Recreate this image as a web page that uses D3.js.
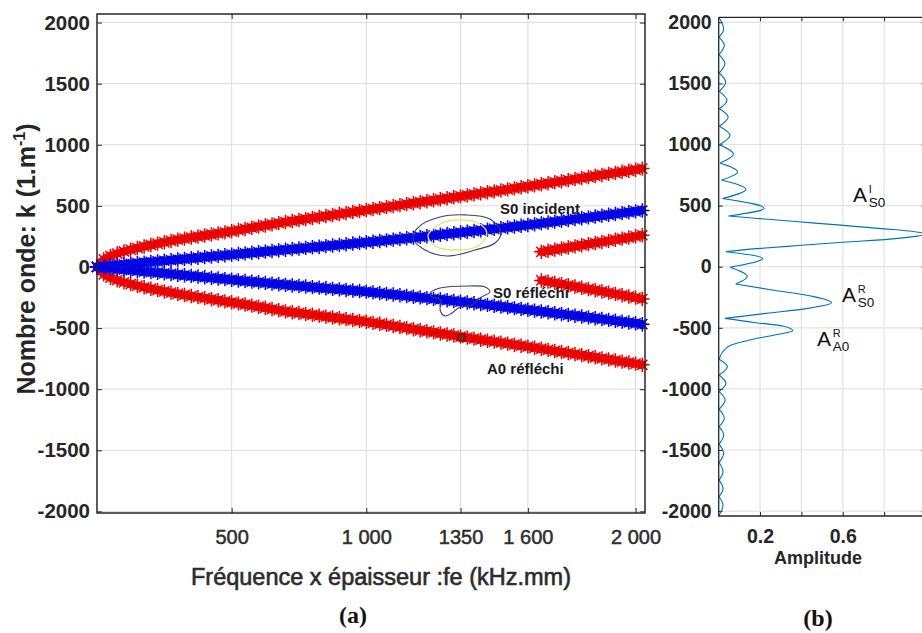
<!DOCTYPE html>
<html>
<head>
<meta charset="utf-8">
<script src="https://cdn.jsdelivr.net/npm/d3@7"></script>
<style>
  html, body { margin: 0; padding: 0; background: #fff; }
  svg { display: block; }
  text { font-family: "Liberation Sans", Arial, sans-serif; }
  .serif { font-family: "Liberation Serif", "Times New Roman", serif; }
</style>
</head>
<body>
<svg id="chart" width="922" height="633"></svg>
<script>
// ---- (a) dispersion branches: frequency-thickness (kHz.mm) vs wavenumber k (1/m)
const feValues = [0,25,50,75,100,125,150,175,200,225,250,275,300,325,350,375,400,425,450,475,
  500,525,550,575,600,625,650,675,700,725,750,775,800,825,850,875,900,925,950,975,
  1000,1025,1050,1075,1100,1125,1150,1175,1200,1225,1250,1275,1300,1325,1350,1375,1400,1425,1450,1475,
  1500,1525,1550,1575,1600,1625,1650,1675,1700,1725,1750,1775,1800,1825,1850,1875,1900,1925,1950,1975,
  2000,2025];

const kA0Incident = [0,62,90,110,127,142,155,168,180,191,202,213,224,232,241,249,258,266,275,283,
  292,302,311,321,330,340,349,359,368,376,384,392,401,409,417,425,433,441,450,458,
  466,474,482,490,498,506,514,522,530,538,546,554,562,570,578,586,594,602,611,619,
  627,635,643,652,660,668,677,685,694,702,711,719,728,736,745,753,762,770,779,787,
  796,805];

const kS0Incident = [0,6,11,16,21,26,31,36,41,46,51,56,61,66,71,76,81,86,91,96,
  101,106,111,116,121,126,131,136,141,146,151,156,161,166,171,176,181,186,192,197,
  202,207,213,218,224,229,235,240,246,252,258,264,270,276,282,288,294,300,306,312,
  318,324,331,337,344,350,357,364,371,378,385,392,399,406,413,420,427,434,441,448,
  455,462];

const kS0Reflected = [0,-5,-10,-16,-21,-26,-31,-37,-42,-47,-52,-57,-63,-68,-73,-78,-84,-89,-94,-99,
  -104,-110,-115,-120,-125,-130,-136,-141,-146,-151,-155,-160,-165,-169,-174,-179,-183,-188,-193,-197,
  -202,-208,-214,-220,-225,-231,-237,-243,-249,-255,-261,-266,-272,-278,-284,-291,-297,-304,-310,-317,
  -324,-330,-337,-343,-350,-357,-364,-371,-378,-385,-392,-399,-405,-412,-419,-426,-433,-440,-447,-454,
  -461,-468];

const kA0Reflected = [0,-60,-88,-108,-125,-140,-153,-166,-178,-189,-200,-210,-220,-229,-238,-247,-255,-264,-272,-281,
  -289,-298,-307,-316,-325,-334,-344,-353,-363,-370,-377,-384,-391,-398,-406,-413,-420,-427,-434,-441,
  -448,-457,-465,-474,-483,-491,-500,-509,-518,-526,-535,-544,-552,-561,-570,-578,-586,-595,-603,-611,
  -619,-627,-636,-644,-652,-661,-669,-678,-687,-696,-704,-713,-722,-730,-739,-748,-756,-765,-774,-782,
  -791,-800];

// short converted branches above 1650 kHz.mm
const feBranch = [1650,1675,1700,1725,1750,1775,1800,1825,1850,1875,1900,1925,1950,1975,2000,2025];
const kBranchUpper = [124,133,142,151,160,169,178,187,196,205,214,223,232,241,251,260];
const kBranchLower = [-110,-120,-130,-140,-150,-160,-170,-180,-190,-200,-210,-220,-231,-241,-251,-262];

// outlined regions around the S0 branches near 1350 kHz.mm, [fe, k]
const outlineIncident = [[1173,237],[1199,336],[1274,409],[1367,426],[1459,393],[1500,286],
  [1478,196],[1404,139],[1300,90],[1218,139]];
const outlineIncidentCore = [[1229,254],[1274,352],[1348,385],[1422,352],[1448,270],
  [1415,172],[1329,139],[1255,172]];
const outlineReflected = [[1237,-213],[1274,-172],[1385,-155],[1441,-164],[1459,-205],[1422,-254],
  [1392,-311],[1348,-327],[1318,-376],[1292,-401],[1274,-352],[1277,-270],[1244,-245]];
const pointMarked = [1354, -578];

const yTicks = [-2000,-1500,-1000,-500,0,500,1000,1500,2000];
const xTickValues = [500,1000,1350,1600,2000];
const xTickLabels = ["500","1 000","1350","1 600","2 000"];

// ---- (b) spatial spectrum amplitude vs k
const kWave = [2035,1946,1878,1810,1735,1660,1585,1510,1435,1361,1293,1225,1150,1075,998,920,848,776,709,633,
  558,478,415,395,370,340,310,288,268,250,228,200,175,150,123,69,-5,-82,-142,-191,
  -245,-295,-341,-382,-423,-458,-485,-524,-559,-600,-641,-700,-758,-818,-886,-954,-1022,-1091,-1166,-1241,
  -1309,-1377,-1452,-1527,-1602,-1678,-1746,-1814,-1882,-1950,-2035];
const amplitude = [0.003,0.024,0.002,0.027,0.002,0.030,0.002,0.034,0.003,0.040,0.003,0.046,0.003,0.055,0.004,0.071,0.006,0.091,0.013,0.132,
  0.018,0.220,0.047,0.19,0.37,0.59,0.80,0.94,1.00,0.96,0.84,0.60,0.40,0.20,0.035,0.213,0.055,0.138,0.082,0.26,
  0.46,0.546,0.43,0.23,0.030,0.18,0.31,0.358,0.27,0.15,0.06,0.018,0.002,0.042,0.002,0.035,0.002,0.031,0.002,0.027,
  0.002,0.024,0.002,0.024,0.002,0.021,0.002,0.021,0.002,0.021,0.002];
const ampTicks = [0.2,0.4,0.6,0.8];
const ampTickLabels = {0.2: "0.2", 0.6: "0.6"};

const svg = d3.select("#chart");
svg.append("rect").attr("width", 922).attr("height", 633).attr("fill", "#fff");

const axisColor = "#262626";
const gridColor = "#dcdcdc";

// ================= panel (a) =================
const x = d3.scaleLinear().domain([0, 2035]).range([97, 645]);
const y = d3.scaleLinear().domain([-2013, 2070]).range([513, 14]);

const gA = svg.append("g");
gA.append("g").selectAll("line").data(xTickValues).join("line")
  .attr("x1", d => x(d)).attr("x2", d => x(d)).attr("y1", 14).attr("y2", 513)
  .attr("stroke", gridColor).attr("stroke-width", 1);
gA.append("g").selectAll("line").data(yTicks).join("line")
  .attr("x1", 97).attr("x2", 645).attr("y1", d => y(d)).attr("y2", d => y(d))
  .attr("stroke", gridColor).attr("stroke-width", 1);

function styleAxis(g, size, weight, color, thicken) {
  g.select(".domain").remove();
  g.selectAll(".tick line").attr("stroke", axisColor).attr("stroke-width", 1);
  g.selectAll("text").attr("font-family", "'Liberation Sans', Arial, sans-serif")
    .attr("font-size", size).attr("font-weight", weight).attr("fill", color)
    .attr("stroke", thicken ? color : null).attr("stroke-width", thicken || null);
}

gA.append("g").attr("transform", "translate(97,0)")
  .call(d3.axisLeft(y).tickValues(yTicks).tickSize(-5).tickSizeOuter(0).tickPadding(7)
    .tickFormat(d => String(d)))
  .call(g => styleAxis(g, 20.5, "bold", "#262626"));
gA.append("g").attr("transform", "translate(645,0)")
  .call(d3.axisRight(y).tickValues(yTicks).tickSize(-5).tickSizeOuter(0).tickFormat(""))
  .call(g => styleAxis(g, 10, "normal", axisColor));
gA.append("g").attr("transform", "translate(0,513)")
  .call(d3.axisBottom(x).tickValues(xTickValues).tickSize(-5).tickSizeOuter(0).tickPadding(17)
    .tickFormat((d, i) => xTickLabels[i]))
  .call(g => styleAxis(g, 20, "normal", "#2e2e2e", 0.5));
gA.append("g").attr("transform", "translate(0,14)")
  .call(d3.axisTop(x).tickValues(xTickValues).tickSize(-5).tickSizeOuter(0).tickFormat(""))
  .call(g => styleAxis(g, 10, "normal", axisColor));

// asterisk marker
function asterisk(r) {
  const d = r * 0.7071;
  return `M${-r},0L${r},0M0,${-r}L0,${r}M${-d},${-d}L${d},${d}M${-d},${d}L${d},${-d}`;
}
const star = asterisk(7.2);
const bandLine = d3.line().x(d => d[0]).y(d => d[1]);

function drawBranch(fes, ks, color, core) {
  const p = fes.map((d, i) => [x(d), y(ks[i])]);
  const g = gA.append("g");
  // dense core of the overlapping markers
  g.append("path").attr("d", bandLine(p)).attr("fill", "none")
    .attr("stroke", core).attr("stroke-width", 8.5).attr("stroke-linecap", "round");
  g.selectAll("path.m").data(p).join("path").attr("class", "m")
    .attr("d", star)
    .attr("transform", d => `translate(${d[0]},${d[1]})`)
    .attr("fill", "none").attr("stroke", color).attr("stroke-width", 1.5);
}
drawBranch(feValues, kA0Incident, "#e60000", "#ff1010");
drawBranch(feValues, kA0Reflected, "#e60000", "#ff1010");
drawBranch(feBranch, kBranchUpper, "#e60000", "#ff1010");
drawBranch(feBranch, kBranchLower, "#e60000", "#ff1010");
drawBranch(feValues, kS0Incident, "#0000e0", "#1010ff");
drawBranch(feValues, kS0Reflected, "#0000e0", "#1010ff");

// outlines
const outline = d3.line().x(d => x(d[0])).y(d => y(d[1])).curve(d3.curveCatmullRomClosed);
gA.append("path").attr("d", outline(outlineIncident)).attr("fill", "none")
  .attr("stroke", "#3b4070").attr("stroke-width", 1.1);
gA.append("path").attr("d", outline(outlineIncidentCore)).attr("fill", "none")
  .attr("stroke", "#e6e36a").attr("stroke-width", 1.3);
gA.append("path").attr("d", outline(outlineReflected)).attr("fill", "none")
  .attr("stroke", "#3b4070").attr("stroke-width", 1.1);
gA.append("rect").attr("x", x(pointMarked[0]) - 3.5).attr("y", y(pointMarked[1]) - 3.5)
  .attr("width", 7).attr("height", 7).attr("fill", "#9a1d1d").attr("stroke", "#5a1010");

// border
gA.append("rect").attr("x", 97).attr("y", 14).attr("width", 548).attr("height", 499)
  .attr("fill", "none").attr("stroke", axisColor).attr("stroke-width", 1.5);

// branch labels
const branchLabels = [
  {t: "S0 incident", x: 500, y: 214},
  {t: "S0 réfléchi", x: 493, y: 298},
  {t: "A0 réfléchi", x: 487, y: 374}
];
gA.selectAll(".blabel").data(branchLabels).join("text")
  .attr("x", d => d.x).attr("y", d => d.y).text(d => d.t)
  .attr("font-size", 15).attr("font-weight", "bold").attr("fill", "#1a1a1a");

// axis titles
svg.append("text").attr("x", 381).attr("y", 585).attr("text-anchor", "middle")
  .attr("font-size", 23.5).attr("fill", "#2b2b2b").attr("stroke", "#2b2b2b").attr("stroke-width", 0.6)
  .text("Fréquence x épaisseur :fe (kHz.mm)");
const yt = svg.append("text").attr("transform", "translate(35,259) rotate(-90)")
  .attr("text-anchor", "middle").attr("font-size", 25).attr("font-weight", "bold").attr("fill", "#262626");
yt.append("tspan").text("Nombre onde: k (1.m");
yt.append("tspan").attr("font-size", 16).attr("dy", -10).text("-1");
yt.append("tspan").attr("dy", 10).text(")");

svg.append("text").attr("class", "serif").attr("x", 353).attr("y", 623).attr("text-anchor", "middle")
  .attr("font-size", 24).attr("font-weight", "bold").attr("fill", "#111").text("(a)");

// ================= panel (b) =================
const xR = d3.scaleLinear().domain([0, 1]).range([718.7, 925.5]);
const yR = d3.scaleLinear().domain([-2040, 2041]).range([516, 17.3]);
const gB = svg.append("g");

gB.append("g").selectAll("line").data(ampTicks).join("line")
  .attr("x1", d => xR(d)).attr("x2", d => xR(d)).attr("y1", 17.3).attr("y2", 516)
  .attr("stroke", "#e3e3e3").attr("stroke-width", 1.2);
gB.append("g").selectAll("line").data(yTicks).join("line")
  .attr("x1", 718.7).attr("x2", 925.5).attr("y1", d => yR(d)).attr("y2", d => yR(d))
  .attr("stroke", "#e3e3e3").attr("stroke-width", 1.2);

gB.append("g").attr("transform", "translate(718.7,0)")
  .call(d3.axisLeft(yR).tickValues(yTicks).tickSize(-4).tickSizeOuter(0).tickPadding(7)
    .tickFormat(d => String(d)))
  .call(g => styleAxis(g, 19.5, "bold", "#262626"));
gB.append("g").attr("transform", "translate(925.5,0)")
  .call(d3.axisRight(yR).tickValues(yTicks).tickSize(-4).tickSizeOuter(0).tickFormat(""))
  .call(g => styleAxis(g, 10, "normal", axisColor));
gB.append("g").attr("transform", "translate(0,516)")
  .call(d3.axisBottom(xR).tickValues(ampTicks).tickSize(-4).tickSizeOuter(0).tickPadding(13)
    .tickFormat(d => ampTickLabels[d] || ""))
  .call(g => styleAxis(g, 19.5, "bold", "#262626"));
gB.append("g").attr("transform", "translate(0,17.3)")
  .call(d3.axisTop(xR).tickValues(ampTicks).tickSize(-4).tickSizeOuter(0).tickFormat(""))
  .call(g => styleAxis(g, 10, "normal", axisColor));

// spectrum line: each lobe between two minima is a smooth piece
const pts = kWave.map((k, i) => ({k, a: amplitude[i]}));
const lobes = [];
let cur = [pts[0]];
for (let i = 1; i < pts.length; i++) {
  cur.push(pts[i]);
  const isMin = i < pts.length - 1 && pts[i].a < pts[i - 1].a && pts[i].a < pts[i + 1].a;
  if (isMin) { lobes.push(cur); cur = [pts[i]]; }
}
if (cur.length > 1) lobes.push(cur);
const specLine = d3.line().x(d => xR(d.a)).y(d => yR(d.k)).curve(d3.curveMonotoneY);
gB.append("path").attr("d", lobes.map(l => specLine(l)).join(""))
  .attr("fill", "none").attr("stroke", "#0072bd").attr("stroke-width", 1.1);

gB.append("path").attr("d", "M718.7,17.3L925.5,17.3M718.7,17.3L718.7,516L925.5,516L925.5,17.3")
  .attr("fill", "none").attr("stroke", axisColor).attr("stroke-width", 1.3);

// peak annotations: letter, superscript and subscript stacked after it
const peakLabels = [
  {sup: "I", sub: "S0", x: 853, y: 202},
  {sup: "R", sub: "S0", x: 842, y: 302},
  {sup: "R", sub: "A0", x: 817, y: 346}
];
const gP = gB.append("g").attr("class", "serif").attr("fill", "#111");
gP.selectAll(".pa").data(peakLabels).join("text").attr("class", "pa")
  .attr("x", d => d.x).attr("y", d => d.y).attr("font-size", 21).text("A");
gP.selectAll(".ps").data(peakLabels).join("text").attr("class", "ps")
  .attr("x", d => d.x + 15.8).attr("y", d => d.y - 9).attr("font-size", 11).text(d => d.sup);
gP.selectAll(".pb").data(peakLabels).join("text").attr("class", "pb")
  .attr("x", d => d.x + 15.8).attr("y", d => d.y + 5).attr("font-size", 13.5).text(d => d.sub);

svg.append("text").attr("x", 818).attr("y", 564).attr("text-anchor", "middle")
  .attr("font-size", 18).attr("font-weight", "bold").attr("fill", "#262626").text("Amplitude");
svg.append("text").attr("class", "serif").attr("x", 818).attr("y", 626).attr("text-anchor", "middle")
  .attr("font-size", 24).attr("font-weight", "bold").attr("fill", "#111").text("(b)");
</script>
</body>
</html>
